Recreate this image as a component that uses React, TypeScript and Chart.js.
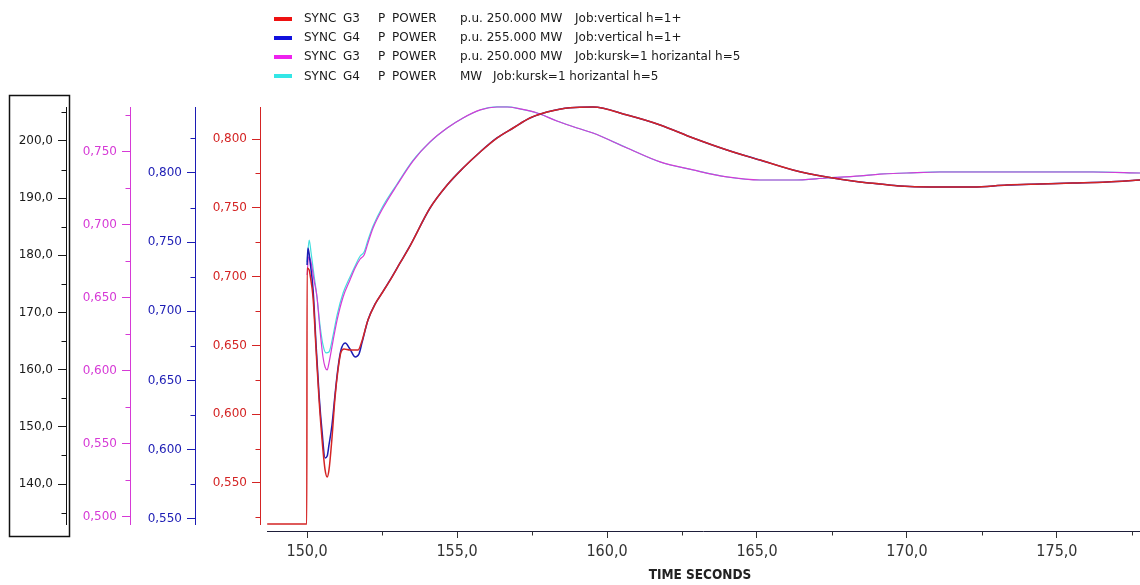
import { useEffect, useRef } from "react";
import { Chart, registerables } from "chart.js";

Chart.register(...registerables);

// ---- Traces: time stamps (s) and samples ----
// SYNC G3 P POWER, p.u. 250 MW, job "vertical"
const g3VerticalTime = [148.67, 149.99, 150.0, 150.07, 150.1, 150.2, 150.3, 150.4, 150.5, 150.6, 150.67, 150.73, 150.83, 150.93, 151.03, 151.13, 151.23, 151.43, 151.7, 151.83, 152.03, 152.27, 152.5, 152.77, 153.1, 153.43, 154.1, 154.67, 155.2, 155.77, 156.33, 156.87, 157.43, 158.0, 158.77, 159.53, 160.67, 161.77, 162.87, 164.0, 165.1, 166.2, 167.33, 168.43, 169.1, 169.77, 170.77, 172.2, 173.33, 174.43, 175.53, 176.67, 177.77];
const g3VerticalPu = [0.5202, 0.5202, 0.7063, 0.7048, 0.7012, 0.6845, 0.6467, 0.6103, 0.5813, 0.5595, 0.5544, 0.5595, 0.5827, 0.6118, 0.6321, 0.6452, 0.6474, 0.6467, 0.6467, 0.6532, 0.6685, 0.6801, 0.6881, 0.6975, 0.7099, 0.7222, 0.7499, 0.7666, 0.7789, 0.7906, 0.8007, 0.808, 0.8153, 0.8196, 0.8228, 0.8232, 0.8174, 0.8102, 0.8007, 0.792, 0.7847, 0.7775, 0.7724, 0.7688, 0.7673, 0.7658, 0.7651, 0.7651, 0.7666, 0.7673, 0.768, 0.7688, 0.7702];

// SYNC G4 P POWER, p.u. 255 MW, job "vertical"
const g4VerticalTime = [150.0, 150.03, 150.1, 150.2, 150.3, 150.4, 150.5, 150.6, 150.67, 150.73, 150.83, 150.93, 151.03, 151.13, 151.27, 151.43, 151.6, 151.73, 151.83, 152.03, 152.27, 152.5, 152.77, 153.1, 153.43, 154.1, 154.67, 155.2, 155.77, 156.33, 156.87, 157.43, 158.0, 158.77, 159.53, 160.67, 161.77, 162.87, 164.0, 165.1, 166.2, 167.33, 168.43, 169.1, 169.77, 170.77, 172.2, 173.33, 174.43, 175.53, 176.67, 177.77];
const g4VerticalPu = [0.7335, 0.7458, 0.7357, 0.7155, 0.6757, 0.6396, 0.6129, 0.5941, 0.5955, 0.6035, 0.6179, 0.6396, 0.6591, 0.6721, 0.6772, 0.6728, 0.6671, 0.6692, 0.6772, 0.6938, 0.7054, 0.7133, 0.7227, 0.735, 0.7473, 0.7747, 0.7913, 0.8036, 0.8152, 0.8253, 0.8325, 0.8397, 0.8441, 0.8472, 0.8476, 0.8419, 0.8347, 0.8253, 0.8166, 0.8094, 0.8022, 0.7971, 0.7935, 0.7921, 0.7906, 0.7899, 0.7899, 0.7913, 0.7921, 0.7928, 0.7935, 0.7949];

// SYNC G3 P POWER, p.u. 250 MW, job "kursk=1 horizantal"
const g3KurskTime = [150.0, 150.05, 150.13, 150.23, 150.33, 150.43, 150.53, 150.6, 150.67, 150.73, 150.87, 151.0, 151.2, 151.43, 151.6, 151.77, 151.9, 152.03, 152.2, 152.53, 153.0, 153.53, 154.1, 154.67, 155.2, 155.77, 156.33, 156.67, 157.1, 157.67, 158.33, 159.0, 159.53, 160.67, 161.77, 162.87, 164.0, 165.1, 166.2, 167.33, 168.43, 169.1, 170.0, 171.1, 176.2, 177.77];
const g3KurskPu = [0.6657, 0.6781, 0.6747, 0.6623, 0.6507, 0.6281, 0.6096, 0.6027, 0.6007, 0.6055, 0.6212, 0.6349, 0.6507, 0.6623, 0.6705, 0.6767, 0.6794, 0.6877, 0.6979, 0.7116, 0.7274, 0.7438, 0.7569, 0.7664, 0.7733, 0.7788, 0.7808, 0.7808, 0.7795, 0.7767, 0.7712, 0.7664, 0.763, 0.7527, 0.7432, 0.7377, 0.7329, 0.7308, 0.7308, 0.7322, 0.7336, 0.7349, 0.7356, 0.7363, 0.7363, 0.7356];

// SYNC G4 P POWER, MW, job "kursk=1 horizantal"
const g4KurskTime = [150.0, 150.07, 150.13, 150.23, 150.33, 150.43, 150.53, 150.63, 150.73, 150.87, 151.0, 151.2, 151.43, 151.6, 151.77, 151.9, 152.03, 152.2, 152.53, 153.0, 153.53, 154.1, 154.67, 155.2, 155.77, 156.33, 156.67, 157.1, 157.67, 158.33, 159.0, 159.53, 160.67, 161.77, 162.87, 164.0, 165.1, 166.2, 167.33, 168.43, 169.1, 170.0, 171.1, 176.2, 177.77];
const g4KurskMw = [178.83, 182.68, 180.58, 176.56, 172.71, 167.81, 164.32, 162.92, 163.09, 166.07, 169.56, 173.41, 176.21, 178.14, 179.88, 180.58, 182.68, 185.13, 188.63, 192.48, 196.6, 199.83, 202.27, 204.02, 205.42, 205.95, 205.95, 205.6, 204.9, 203.5, 202.27, 201.4, 198.78, 196.33, 194.93, 193.7, 193.18, 193.18, 193.53, 193.88, 194.23, 194.4, 194.58, 194.58, 194.4];

// ---- Axis ticks ----
const timeMajorTicks = [150, 155, 160, 165, 170, 175];
const timeMinorTicks = [152.5, 157.5, 162.5, 167.5, 172.5, 177.5];
const mwMajorTicks = [140, 150, 160, 170, 180, 190, 200];
const mwMinorTicks = [135, 145, 155, 165, 175, 185, 195, 205];
const g3KurskMajorTicks = [0.5, 0.55, 0.6, 0.65, 0.7, 0.75];
const g3KurskMinorTicks = [0.525, 0.575, 0.625, 0.675, 0.725, 0.775];
const g4VerticalMajorTicks = [0.55, 0.6, 0.65, 0.7, 0.75, 0.8];
const g4VerticalMinorTicks = [0.575, 0.625, 0.675, 0.725, 0.775, 0.825];
const g3VerticalMajorTicks = [0.55, 0.6, 0.65, 0.7, 0.75, 0.8];
const g3VerticalMinorTicks = [0.525, 0.575, 0.625, 0.675, 0.725, 0.775];

// ---- Legend text ----
const legendParts = [
  ["SYNC", "G3", "P", "POWER", "p.u. 250.000 MW", "Job:vertical h=1+"],
  ["SYNC", "G4", "P", "POWER", "p.u. 255.000 MW", "Job:vertical h=1+"],
  ["SYNC", "G3", "P", "POWER", "p.u. 250.000 MW", "Job:kursk=1 horizantal h=5"],
  ["SYNC", "G4", "P", "POWER", "MW", "Job:kursk=1 horizantal h=5"],
];

const RED = "#d42424";
const BLUE = "#1c1cb4";
const MAGENTA = "#d63ad6";
const CYAN = "#44dede";
const SWATCHES = ["#ee1111", "#1111dd", "#ee22ee", "#33e6e6"];

const TICK_FONT = "'DejaVu Sans', sans-serif";
const NARROW_FONT = "'Liberation Sans Narrow', 'DejaVu Sans Condensed', sans-serif";
const LEGEND_FONT = "'DejaVu Sans', sans-serif";

const zip = (xs: number[], ys: number[]) => xs.map((x, i) => ({ x, y: ys[i] }));
const fmt = (digits: number) => (v: number | string) => Number(v).toFixed(digits).replace(".", ",");

function leftAxis(
  weight: number,
  width: number,
  min: number,
  max: number,
  ticks: number[],
  color: string,
  digits: number
) {
  return {
    type: "linear" as const,
    position: "left" as const,
    weight,
    min,
    max,
    afterBuildTicks: (s: any) => {
      s.ticks = ticks.map((value) => ({ value }));
    },
    afterFit: (s: any) => {
      s.width = width;
    },
    border: { display: false },
    grid: { drawOnChartArea: false, drawTicks: true, tickLength: 8, tickColor: color, tickWidth: 1 },
    ticks: {
      color,
      padding: 5,
      autoSkip: false,
      font: { family: TICK_FONT, size: 12 },
      callback: fmt(digits),
    },
  };
}

// Minor ticks, axis lines, framed MW axis and the legend block
const decorations = {
  id: "decorations",
  afterDraw(chart: any) {
    const { ctx, chartArea: area, scales } = chart;
    ctx.save();

    const axes: [string, number[], string][] = [
      ["yMw", mwMinorTicks, "#111111"],
      ["yG3Kursk", g3KurskMinorTicks, MAGENTA],
      ["yG4Vertical", g4VerticalMinorTicks, BLUE],
      ["yG3Vertical", g3VerticalMinorTicks, RED],
    ];
    ctx.lineWidth = 1;
    for (const [id, minors, color] of axes) {
      const s = scales[id];
      const xr = Math.round(s.right) + 0.5;
      ctx.strokeStyle = color;
      ctx.beginPath();
      ctx.moveTo(xr, area.top + 1);
      ctx.lineTo(xr, area.bottom - 6);
      for (const v of minors) {
        const y = Math.round(s.getPixelForValue(v)) + 0.5;
        ctx.moveTo(xr - 5, y);
        ctx.lineTo(xr, y);
      }
      ctx.stroke();
    }

    // time axis line and its minor ticks
    const sx = scales.x;
    const yb = Math.round(area.bottom) + 0.5;
    ctx.strokeStyle = "#1e1e3a";
    ctx.beginPath();
    ctx.moveTo(area.left + 7, yb);
    ctx.lineTo(area.right, yb);
    ctx.stroke();
    ctx.strokeStyle = "#333333";
    ctx.beginPath();
    for (const v of timeMinorTicks) {
      const x = Math.round(sx.getPixelForValue(v)) + 0.5;
      ctx.moveTo(x, yb);
      ctx.lineTo(x, yb + 4);
    }
    ctx.stroke();

    // frame around the MW axis
    ctx.strokeStyle = "#111111";
    ctx.lineWidth = 1.5;
    ctx.strokeRect(9.5, 95.5, 60, 441);

    // legend
    ctx.font = `12px ${LEGEND_FONT}`;
    ctx.textBaseline = "middle";
    ctx.textAlign = "left";
    const colX = [304, 343, 378, 392, 460];
    const jobX = [575, 575, 575, 493];
    legendParts.forEach((parts, i) => {
      const y = 18.5 + i * 19.3;
      ctx.fillStyle = SWATCHES[i];
      ctx.fillRect(274, Math.round(y) - 2, 18, 4);
      ctx.fillStyle = "#1a1a1a";
      parts.forEach((txt, j) => {
        const x = j < 5 ? colX[j] : jobX[i];
        ctx.fillText(txt, x, y);
      });
    });
    ctx.restore();
  },
};

export default function App() {
  const ref = useRef<HTMLCanvasElement>(null);

  useEffect(() => {
    if (!ref.current) return;
    const chart = new Chart(ref.current, {
      type: "line",
      data: {
        datasets: [
          {
            label: legendParts[0].join(" "),
            data: zip(g3VerticalTime, g3VerticalPu),
            yAxisID: "yG3Vertical",
            borderColor: RED,
            borderWidth: 1.5,
          },
          {
            label: legendParts[1].join(" "),
            data: zip(g4VerticalTime, g4VerticalPu),
            yAxisID: "yG4Vertical",
            borderColor: BLUE,
            borderWidth: 1.5,
          },
          {
            label: legendParts[2].join(" "),
            data: zip(g3KurskTime, g3KurskPu),
            yAxisID: "yG3Kursk",
            borderColor: MAGENTA,
            borderWidth: 1.2,
          },
          {
            label: legendParts[3].join(" "),
            data: zip(g4KurskTime, g4KurskMw),
            yAxisID: "yMw",
            borderColor: CYAN,
            borderWidth: 1.2,
          },
        ],
      },
      options: {
        responsive: false,
        animation: false,
        devicePixelRatio: 1,
        layout: { padding: { top: 106, left: 0, right: 0, bottom: 0 } },
        elements: {
          point: { radius: 0, hoverRadius: 0 },
          line: { cubicInterpolationMode: "monotone", fill: false },
        },
        plugins: {
          legend: { display: false },
          tooltip: { enabled: false },
        },
        scales: {
          x: {
            type: "linear",
            position: "bottom",
            min: 148.43,
            max: 177.77,
            afterBuildTicks: (s: any) => {
              s.ticks = timeMajorTicks.map((value) => ({ value }));
            },
            afterFit: (s: any) => {
              s.height = 54;
            },
            border: { display: false },
            grid: { drawOnChartArea: false, tickLength: 7, tickColor: "#333333" },
            ticks: {
              color: "#333333",
              padding: 4,
              autoSkip: false,
              maxRotation: 0,
              font: { family: NARROW_FONT, size: 16 },
              callback: fmt(1),
            },
            title: {
              display: true,
              text: "TIME SECONDS",
              color: "#222222",
              font: { family: NARROW_FONT, size: 13.5, weight: "bold" },
              padding: { top: 0, bottom: 1.5 },
            },
          },
          yMw: leftAxis(3, 66, 131.78, 206.12, mwMajorTicks, "#1a1a1a", 1),
          yG3Kursk: leftAxis(2, 64, 0.4904, 0.7815, g3KurskMajorTicks, MAGENTA, 3),
          yG4Vertical: leftAxis(1, 65, 0.5413, 0.8484, g4VerticalMajorTicks, BLUE, 3),
          yG3Vertical: leftAxis(0, 65, 0.5151, 0.824, g3VerticalMajorTicks, RED, 3),
        } as any,
      },
      plugins: [decorations],
    });
    return () => chart.destroy();
  }, []);

  return (
    <canvas
      ref={ref}
      width={1140}
      height={585}
      style={{ position: "fixed", left: 0, top: 0, width: 1140, height: 585, background: "#ffffff" }}
    />
  );
}
